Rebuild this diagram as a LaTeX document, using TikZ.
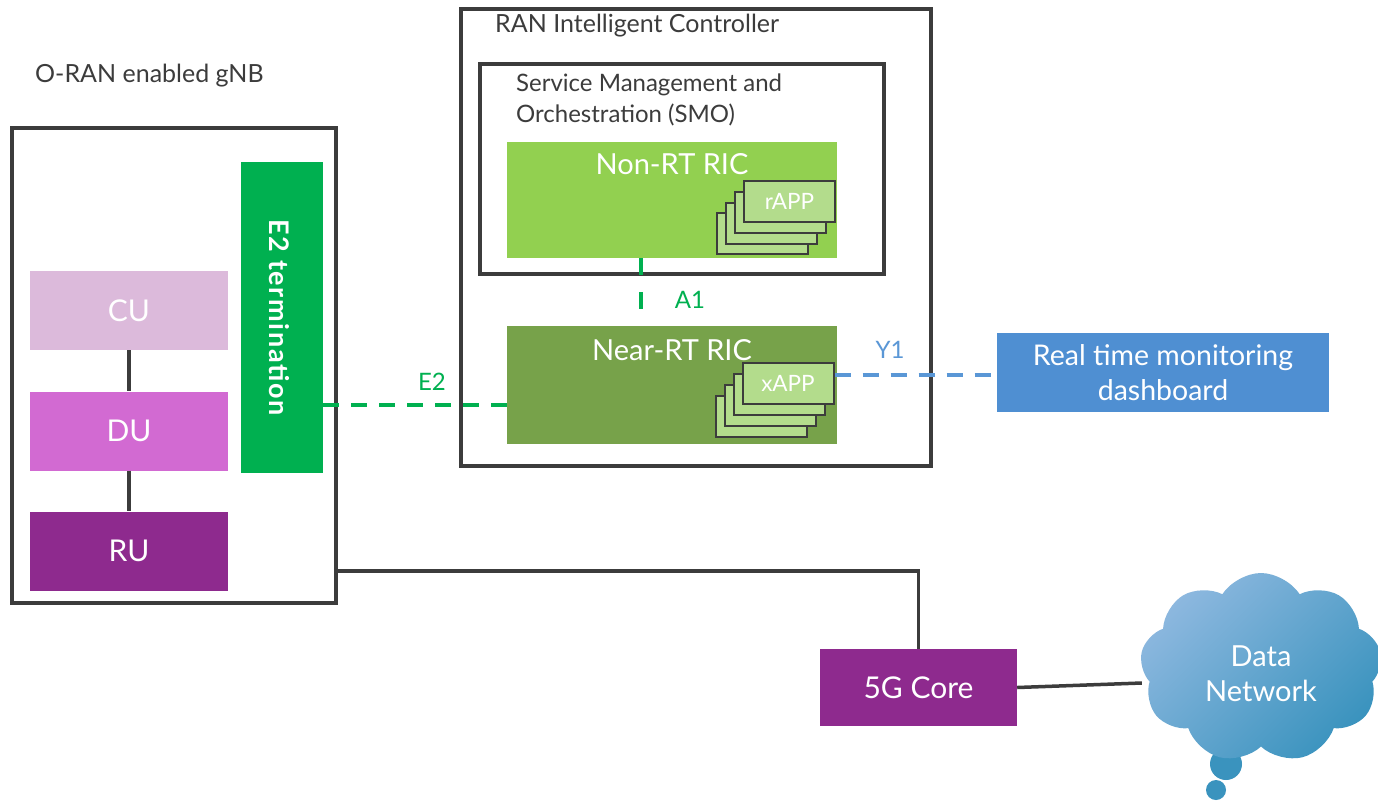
\documentclass[tikz,border=0pt]{standalone}
\usepackage{fontspec}
\setmainfont{Lato}
\usetikzlibrary{shapes.symbols}
\definecolor{dk}{HTML}{3C3C3C}
\definecolor{e2g}{HTML}{00B050}
\definecolor{nonrt}{HTML}{92D050}
\definecolor{nearrt}{HTML}{77A24A}
\definecolor{appg}{HTML}{B3DC8C}
\definecolor{cuc}{HTML}{DCBADB}
\definecolor{duc}{HTML}{D26AD2}
\definecolor{ruc}{HTML}{8E2A8E}
\definecolor{dash}{HTML}{4F8FD2}
\definecolor{yone}{HTML}{5A97D6}
\definecolor{cloudA}{HTML}{8DB8DF}
\definecolor{cloudB}{HTML}{3A93BE}
\tikzset{
  frame/.style={draw=dk, line width=4pt, fill=white},
  blk/.style={draw=none, text=white, inner sep=0pt},
  app/.style={draw=dk, line width=2pt, fill=appg, minimum width=91pt, minimum height=41pt, inner sep=0pt},
  conn/.style={draw=dk, line width=3.5pt},
  greendash/.style={draw=e2g, line width=4pt, dash pattern=on 16pt off 12pt},
  bluedash/.style={draw=yone, line width=4pt, dash pattern=on 16pt off 12pt},
  lbl/.style={text=dk, anchor=west, inner sep=0pt},
}
\begin{document}
\begin{tikzpicture}[x=1pt,y=-1pt]
\useasboundingbox (0,0) rectangle (1378,801);
\fill[white] (0,0) rectangle (1378,801);

% gNB
\node[lbl, font=\fontsize{25}{29}\selectfont] (gnblbl) at (35,76) {O-RAN enabled gNB};
\node[frame, minimum width=324pt, minimum height=475pt] (gnb) at (174,365.5) {};
\node[blk, fill=e2g, minimum width=82pt, minimum height=311pt] (e2t) at (282,317.5) {};
\node[text=white, rotate=-90, font=\fontsize{27}{30}\bfseries\addfontfeatures{LetterSpace=6}] (e2tlbl) at ([xshift=-3pt]e2t.center) {E2 termination};
\node[blk, fill=cuc, minimum width=198pt, minimum height=79pt, font=\fontsize{30}{33}\selectfont] (cu) at (129,310.5) {CU};
\node[blk, fill=duc, minimum width=198pt, minimum height=79pt, font=\fontsize{30}{33}\selectfont] (du) at (129,431) {DU};
\node[blk, fill=ruc, minimum width=198pt, minimum height=79pt, font=\fontsize{30}{33}\selectfont] (ru) at (129,551) {RU};
\draw[conn] (cu.south) -- (du.north);
\draw[conn] (du.south) -- (ru.north);

% RIC
\node[frame, minimum width=470pt, minimum height=457pt] (ric) at (696,237.5) {};
\node[lbl, font=\fontsize{25}{29}\selectfont] (riclbl) at (495,26) {RAN Intelligent Controller};
\node[frame, minimum width=404pt, minimum height=210pt] (smo) at (682,169) {};
\node[lbl, anchor=north west, align=left, font=\fontsize{24}{31}\selectfont] (smolbl) at (516,74) {Service Management and\\Orchestration (SMO)};
\node[blk, fill=nonrt, minimum width=330pt, minimum height=116pt] (nonrt) at (672,200) {};
\node[text=white, font=\fontsize{29}{32}\selectfont] (nonrtlbl) at (672,164) {Non-RT RIC};
\node[app] (r4) at (762.5,233.5) {};
\node[app] (r3) at (771.5,223) {};
\node[app] (r2) at (780.5,212) {};
\node[app, text=white, font=\fontsize{22.5}{25}\selectfont] (r1) at (789.5,201.5) {rAPP};

\node[blk, fill=nearrt, minimum width=330pt, minimum height=118pt] (nearrt) at (672,385) {};
\node[text=white, font=\fontsize{29}{32}\selectfont] (nearrtlbl) at (672,350) {Near-RT RIC};
\node[app] (x4) at (761,416) {};
\node[app] (x3) at (770,405) {};
\node[app] (x2) at (779,394) {};
\node[app, text=white, font=\fontsize{22.5}{25}\selectfont] (x1) at (788,383) {xAPP};

% A1
\draw[greendash, dash pattern=on 17pt off 17pt] ([xshift=-31pt]nonrt.south) -- ([xshift=-31pt]nearrt.north);
\node[text=e2g, font=\fontsize{24}{28}\selectfont] (a1) at (690,300) {A1};

% E2
\draw[greendash] (e2t.east |- 0,405) -- (nearrt.west |- 0,405);
\node[text=e2g, font=\fontsize{24}{28}\selectfont] (e2) at (432,382) {E2};

% Dashboard
\node[blk, fill=dash, minimum width=332pt, minimum height=79pt, align=center, font=\fontsize{28.5}{35}\selectfont] (dash) at (1163,372.5) {Real time monitoring\\dashboard};
\draw[bluedash] (x1.east |- 0,375) -- (dash.west |- 0,375);
\node[text=yone, font=\fontsize{24}{28}\selectfont] (y1) at (890,350) {Y1};

% Core
\node[blk, fill=ruc, minimum width=197pt, minimum height=77pt, font=\fontsize{30}{33}\selectfont] (core) at (918.5,687.5) {5G Core};
\draw[conn] (gnb.east |- 0,571) -| (core.north);

% Cloud
\fill[cloudB] (1226,764) circle (16pt);
\fill[cloudB] (1216,790) circle (10pt);
\node[cloud, cloud puffs=9, cloud puff arc=115, aspect=1.2, minimum width=242pt, minimum height=190pt, draw=none,
      top color=cloudA, bottom color=cloudB, shading angle=45] (dn) at (1261,668) {};
\node[text=white, align=center, font=\fontsize{29}{35}\selectfont] (dnlbl) at (1261,674) {Data\\Network};
\draw[conn] (core.east) -- ([yshift=-15pt]dn.west);
\end{tikzpicture}
\end{document}
